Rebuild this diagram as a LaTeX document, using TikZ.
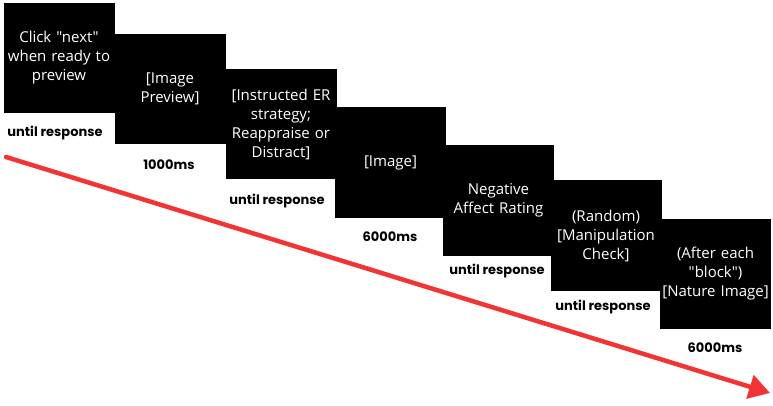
\documentclass[tikz,border=0pt]{standalone}
\usepackage{fontspec}
\newfontfamily\boxfont{Open Sans}
\newfontfamily\lblfont{Poppins}[UprightFont=* SemiBold,BoldFont=* Bold]
\usetikzlibrary{arrows.meta}
\definecolor{arrowred}{RGB}{242,52,52}
\begin{document}
\begin{tikzpicture}[x=1pt,y=-1pt,
  screen/.style={fill=black,text=white,minimum width=111pt,minimum height=110pt,inner sep=0pt,
    align=center,text width=110pt,font=\boxfont\fontsize{15}{19}\selectfont},
  lbl/.style={font=\lblfont\bfseries\fontsize{13}{15}\selectfont,inner sep=0pt},
  timeline/.style={draw=arrowred,line width=4.5pt,line cap=round,-{Triangle[length=21pt,width=24pt]}}]
\useasboundingbox (0,0) rectangle (773,406);
\node[screen] (b1) at (59,58) {Click "next"\\when ready to\\preview};
\node[screen] (b2) at (170,89) {[Image\\Preview]};
\node[screen] (b3) at (281,124) {[Instructed ER\\strategy;\\Reappraise or\\Distract]};
\node[screen] (b4) at (390.5,162.5) {[Image]};
\node[screen] (b5) at (498.5,200.5) {Negative\\Affect Rating};
\node[screen] (b6) at (606,235.5) {(Random)\\{}[Manipulation\\Check]};
\node[screen] (b7) at (715.5,274) {(After each\\"block")\\{}[Nature Image]};
\node[lbl] (l1) at (55,133) {until response};
\node[lbl] (l2) at (169,165) {1000ms};
\node[lbl] (l3) at (277,201) {until response};
\node[lbl] (l4) at (390,237) {6000ms};
\node[lbl] (l5) at (497,271) {until response};
\node[lbl] (l6) at (603,307) {until response};
\node[lbl] (l7) at (715,348) {6000ms};
\coordinate (s) at (6,157);
\coordinate (e) at (770,393);
\draw[timeline] (s) -- (e);
\end{tikzpicture}
\end{document}
